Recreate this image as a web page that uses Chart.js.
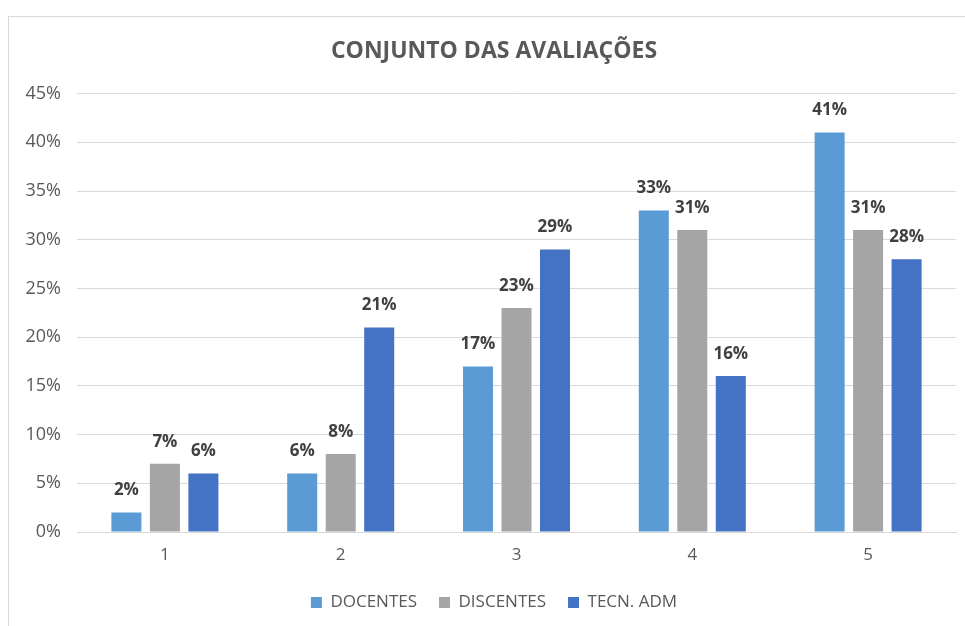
<!DOCTYPE html>
<html>
<head>
<meta charset="utf-8">
<script src="https://cdn.jsdelivr.net/npm/chart.js@4"></script>
<style>
  html, body { margin: 0; padding: 0; background: #fff; overflow: hidden; }
  #caixa {
    position: absolute; left: 8px; top: 16px;
    width: 1000px; height: 700px;
    border: 1px solid #d9d9d9; background: #fff;
  }
  #containerchart { position: absolute; left: 0; top: 0; width: 979px; height: 609px; }
</style>
</head>
<body>
<div id="caixa">
  <div id="containerchart"><canvas id="chartData"></canvas></div>
</div>
<script>
// dados
const categorias = ['1', '2', '3', '4', '5']
const docentes = [2, 6, 17, 33, 41]
const discentes = [7, 8, 23, 31, 31]
const tecnAdm = [6, 21, 29, 16, 28]
const ticksY = [0, 5, 10, 15, 20, 25, 30, 35, 40, 45]

const fonte = '"Open Sans", sans-serif'

// rotulos em cima das barras
const rotulos = {
  id: 'rotulos',
  afterDatasetsDraw(chart) {
    const ctx = chart.ctx
    ctx.save()
    ctx.font = 'bold 17px ' + fonte
    ctx.fillStyle = '#404040'
    ctx.textAlign = 'center'
    ctx.textBaseline = 'middle'
    chart.data.datasets.forEach((ds, i) => {
      chart.getDatasetMeta(i).data.forEach((bar, j) => {
        ctx.fillText(ds.data[j] + '%', bar.x, bar.y - 22)
      })
    })
    ctx.restore()
  }
}

const chartsData = document.getElementById('chartData')

new Chart(chartsData, {
  type: 'bar',
  data: {
    labels: categorias,
    datasets: [
      { label: 'DOCENTES', data: docentes, backgroundColor: '#5B9BD5' },
      { label: 'DISCENTES', data: discentes, backgroundColor: '#A5A5A5' },
      { label: 'TECN. ADM', data: tecnAdm, backgroundColor: '#4472C4' }
    ]
  },
  options: {
    responsive: true,
    maintainAspectRatio: false,
    animation: false,
    layout: { padding: { left: 0, right: 9, top: 0, bottom: 5 } },
    datasets: {
      bar: { categoryPercentage: 0.657, barPercentage: 0.78 }
    },
    plugins: {
      title: {
        display: true,
        text: 'CONJUNTO DAS AVALIAÇÕES',
        color: '#595959',
        font: { family: fonte, size: 23, weight: 'bold' },
        padding: { top: 21, bottom: 28 }
      },
      legend: {
        position: 'bottom',
        labels: {
          color: '#595959',
          font: { family: fonte, size: 17 },
          boxWidth: 11,
          boxHeight: 11,
          padding: 22
        }
      },
      tooltip: { enabled: false }
    },
    scales: {
      x: {
        grid: { display: false, drawTicks: false },
        border: { color: '#D9D9D9' },
        ticks: { color: '#595959', font: { family: fonte, size: 17 }, padding: 13 },
        afterFit(scale) { scale.height = 40 }
      },
      y: {
        min: 0,
        max: 45,
        afterBuildTicks(scale) { scale.ticks = ticksY.map(v => ({ value: v })) },
        grid: { color: '#D9D9D9', drawTicks: false },
        border: { display: false },
        ticks: {
          color: '#595959',
          font: { family: fonte, size: 18 },
          padding: 16,
          callback: v => v + '%'
        },
        afterFit(scale) { scale.width = 68 }
      },
      // eixo vazio a direita so para ocupar espaco
      margemDireita: {
        type: 'linear',
        position: 'right',
        min: 0,
        max: 45,
        grid: { display: false, drawTicks: false },
        border: { display: false },
        ticks: { display: false },
        afterFit(scale) { scale.width = 23 }
      }
    }
  },
  plugins: [rotulos]
})
</script>
</body>
</html>
